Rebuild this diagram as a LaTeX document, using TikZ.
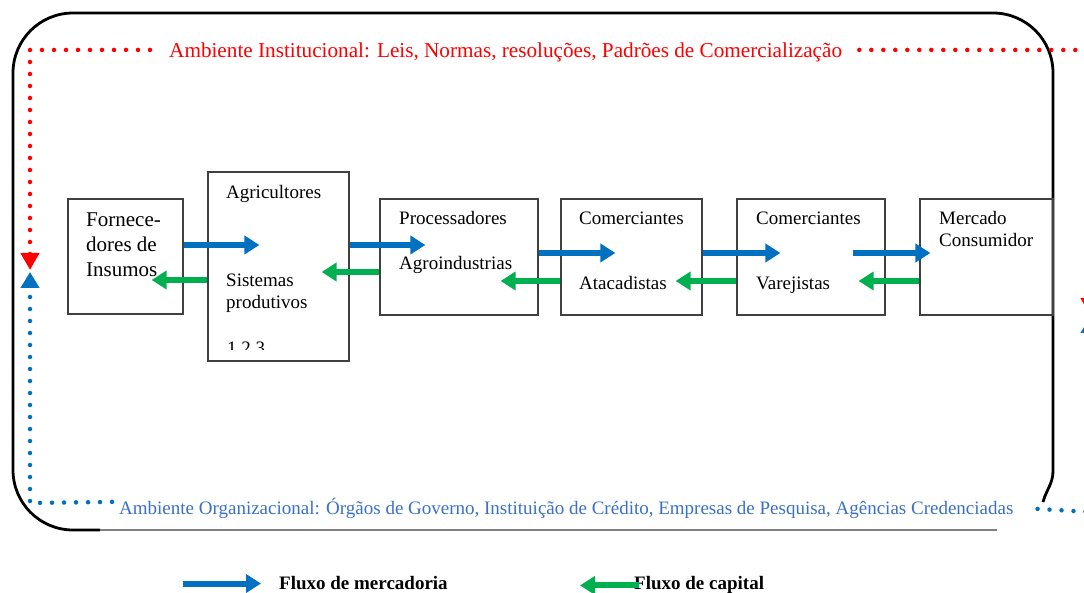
\documentclass[tikz,border=0pt]{standalone}
\usepackage{fontspec}
\setmainfont{Liberation Serif}
\usetikzlibrary{arrows.meta}
\definecolor{mercblue}{RGB}{0,112,192}
\definecolor{capgreen}{RGB}{0,176,80}
\definecolor{orgblue}{RGB}{58,112,200}
\definecolor{boxline}{RGB}{64,64,64}
\tikzstyle{block} = [rectangle, draw=boxline, line width=1.2pt, inner sep=0pt]
\tikzstyle{txt} = [inner sep=0pt, anchor=base west, align=left,
    font=\fontsize{19}{22}\selectfont]
\tikzstyle{merc} = [draw=mercblue, line width=6pt, -{Triangle[length=15pt,width=18pt]}]
\tikzstyle{capital} = [draw=capgreen, line width=6pt, -{Triangle[length=15pt,width=18pt]}]
\tikzstyle{reddots} = [draw=red, line width=4.5pt, line cap=round,
    dash pattern=on 0pt off 12pt, -{Triangle[length=17pt,width=18pt]}]
\tikzstyle{bluedots} = [draw=mercblue, line width=4.5pt, line cap=round,
    dash pattern=on 0pt off 12pt, -{Triangle[length=16pt,width=18pt]}]
\tikzstyle{envframe} = [draw=black, line width=2.8pt]

\begin{document}
\begin{tikzpicture}[x=1pt, y=1pt]
\useasboundingbox (0,0) rectangle (1084,593);
\clip (0,0) rectangle (1084,593);

% ambiente (moldura)
\draw [envframe] (1043,91) to[out=75,in=270] (1053,122) -- (1053,520)
  arc[start angle=0,end angle=90,radius=60] -- (73,580)
  arc[start angle=90,end angle=180,radius=60] -- (13,123)
  arc[start angle=180,end angle=270,radius=60] -- (100,63);
\draw [draw=gray, line width=1.2pt] (100,63) -- (997,63);

% elos da cadeia
\node [block, minimum width=115pt, minimum height=115pt] at (125.5,336.5) (forn) {};
\node [block, minimum width=141pt, minimum height=189pt] at (278.5,326.5) (agri) {};
\node [block, minimum width=158pt, minimum height=116pt] at (459,336) (proc) {};
\node [block, minimum width=141pt, minimum height=116pt] at (631.5,336) (atac) {};
\node [block, minimum width=148pt, minimum height=116pt] at (811,336) (vare) {};
\node [block, minimum width=133pt, minimum height=116pt] at (986.5,336) (merc) {};

\node [txt, font=\fontsize{21}{25}\selectfont] at (86,316) (forn-t) {Fornece-\\dores de\\Insumos};
\node [txt] at (226,394) (agri-t) {Agricultores};
\node [txt] at (226,284) (agri-s) {Sistemas\\produtivos};
\begin{scope}
\clip (208,243) rectangle (349,300);
\node [txt] at (227,238) (agri-n) {1 2 3};
\end{scope}
\node [txt] at (399,368) (proc-t) {Processadores};
\node [txt] at (399,323) (proc-s) {Agroindustrias};
\node [txt] at (579,368) (atac-t) {Comerciantes};
\node [txt] at (579,303) (atac-s) {Atacadistas};
\node [txt] at (756,368) (vare-t) {Comerciantes};
\node [txt] at (756,303) (vare-s) {Varejistas};
\node [txt] at (939,346) (merc-t) {Mercado\\Consumidor};

% fluxo de mercadoria
\draw [merc] ([yshift=11.5pt] forn.east) -- ([xshift=52pt,yshift=21.5pt] agri.west);
\draw [merc] ([yshift=21.5pt] agri.east) -- ([xshift=46pt,yshift=12pt] proc.west);
\draw [merc] ([yshift=4pt] proc.east) -- ([xshift=55pt,yshift=4pt] atac.west);
\draw [merc] ([yshift=4pt] atac.east) -- ([xshift=44pt,yshift=4pt] vare.west);
\draw [merc] ([xshift=-33pt,yshift=4pt] vare.east) -- ([xshift=11pt,yshift=4pt] merc.west);

% fluxo de capital
\draw [capital] ([yshift=-13.5pt] agri.west) -- ([xshift=-32pt,yshift=-23.5pt] forn.east);
\draw [capital] ([yshift=-15pt] proc.west) -- ([xshift=-28pt,yshift=-5.5pt] agri.east);
\draw [capital] ([yshift=-24pt] atac.west) -- ([xshift=-38pt,yshift=-24pt] proc.east);
\draw [capital] ([yshift=-24pt] vare.west) -- ([xshift=-27pt,yshift=-24pt] atac.east);
\draw [capital] ([yshift=-24pt] merc.west) -- ([xshift=-27pt,yshift=-24pt] vare.east);

% ambiente institucional
\node [txt, text=red, font=\fontsize{21.2}{25}\selectfont] at (169,535) (inst) {Ambiente Institucional: Leis, Normas, resoluções, Padrões de Comercialização};
\draw [reddots] ([xshift=-19pt,yshift=3pt] inst.west) -- (30,543) -- (30,323);
\draw [reddots] ([xshift=17pt,yshift=3pt] inst.east) -- (1090,543) -- (1090,278);

% ambiente organizacional
\node [txt, text=orgblue] at (119,78) (org) {Ambiente Organizacional: Órgãos de Governo, Instituição de Crédito, Empresas de Pesquisa, Agências Credenciadas};
\draw [bluedots] ([xshift=-7pt,yshift=7pt] org.west) -- (30,90) -- (30,321);
\draw [bluedots] ([xshift=24pt] org.east) -- (1090,81) -- (1090,276);

% legenda
\node [txt, font=\bfseries\fontsize{19}{22}\selectfont] at (279,3) (legm) {Fluxo de mercadoria};
\node [txt, font=\bfseries\fontsize{19}{22}\selectfont] at (634,3) (legc) {Fluxo de capital};
\draw [merc] ([xshift=-96pt] legm.west) -- ([xshift=-18pt] legm.west);
\draw [capital] ([xshift=5pt] legc.west) -- ([xshift=-54pt] legc.west);
\end{tikzpicture}
\end{document}
